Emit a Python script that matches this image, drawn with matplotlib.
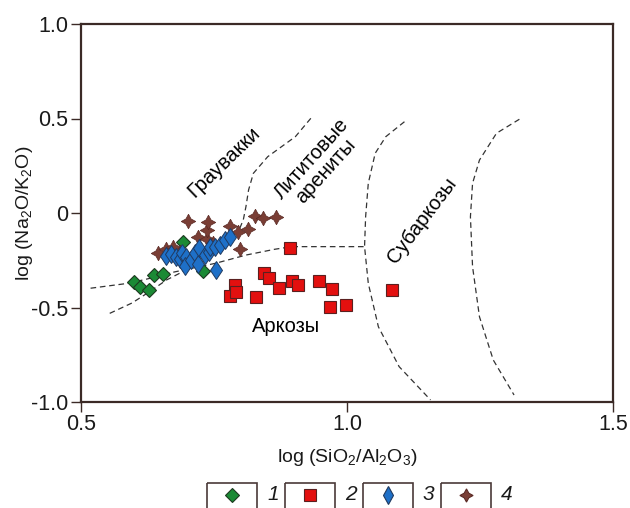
import matplotlib
matplotlib.use("Agg")
import matplotlib.pyplot as plt
from matplotlib.patches import Rectangle

plt.rcParams['font.family'] = ['Liberation Sans', 'DejaVu Sans']
plt.rcParams['mathtext.default'] = 'regular'

# group 1 - green diamonds
x1 = [0.691, 0.638, 0.655, 0.600, 0.611, 0.628, 0.729]
y1 = [-0.155, -0.328, -0.323, -0.365, -0.393, -0.407, -0.305]

# group 2 - red squares
x2 = [0.892, 0.844, 0.854, 0.789, 0.781, 0.791, 0.829, 0.873,
      0.896, 0.908, 0.947, 0.971, 0.968, 0.998, 1.084]
y2 = [-0.187, -0.316, -0.345, -0.381, -0.438, -0.420, -0.443, -0.398,
      -0.360, -0.381, -0.360, -0.404, -0.499, -0.488, -0.407]

# group 3 - blue diamonds
x3 = [0.659, 0.669, 0.678, 0.686, 0.689, 0.698, 0.696, 0.706, 0.714, 0.719,
      0.721, 0.733, 0.740, 0.743, 0.751, 0.753, 0.762, 0.771, 0.780]
y3 = [-0.228, -0.217, -0.231, -0.245, -0.213, -0.231, -0.280, -0.249, -0.213, -0.270,
      -0.187, -0.222, -0.205, -0.178, -0.178, -0.302, -0.169, -0.143, -0.125]

# group 4 - brown stars
x4 = [0.645, 0.660, 0.673, 0.686, 0.702, 0.720, 0.722, 0.736, 0.736,
      0.739, 0.749, 0.780, 0.796, 0.813, 0.798, 0.827, 0.842, 0.867]
y4 = [-0.210, -0.192, -0.178, -0.205, -0.041, -0.129, -0.196, -0.139, -0.090,
      -0.046, -0.160, -0.069, -0.099, -0.086, -0.192, -0.016, -0.028, -0.020]

# field boundaries (dashed)
bA_x = [0.518, 0.589, 0.629, 0.667, 0.753, 0.811, 0.864, 0.896, 0.955, 1.033]
bA_y = [-0.398, -0.372, -0.346, -0.317, -0.266, -0.222, -0.192, -0.178, -0.178, -0.178]
bB_x = [0.554, 0.596, 0.629, 0.661, 0.700]
bB_y = [-0.531, -0.476, -0.416, -0.354, -0.298]
bC_x = [0.932, 0.903, 0.851, 0.824, 0.815, 0.810, 0.805, 0.797]
bC_y = [0.501, 0.404, 0.298, 0.210, 0.122, 0.033, -0.037, -0.090]
bD_x = [1.108, 1.073, 1.053, 1.040, 1.035, 1.033, 1.040, 1.059, 1.098, 1.157]
bD_y = [0.483, 0.404, 0.316, 0.157, -0.020, -0.178, -0.372, -0.602, -0.813, -0.989]
bE_x = [1.324, 1.281, 1.249, 1.236, 1.232, 1.236, 1.249, 1.275, 1.314]
bE_y = [0.496, 0.422, 0.280, 0.157, -0.020, -0.284, -0.549, -0.778, -0.963]

frame_c = '#3b2a26'

fig = plt.figure(figsize=(6.3, 5.08), dpi=100)
ax = fig.add_axes([81/630, 1-402/508, 532/630, 378/508])

for bx, by in [(bA_x, bA_y), (bB_x, bB_y), (bC_x, bC_y), (bD_x, bD_y), (bE_x, bE_y)]:
    ax.plot(bx, by, color='#333333', lw=0.9, ls=(0, (4.5, 3)))

ax.plot(x2, y2, 's', ms=8.5, mfc='#e3100f', mec='#5a2020', mew=0.8, zorder=3)
ax.plot(x1, y1, 'D', ms=7.5, mfc='#1b8a35', mec='#1e3a20', mew=0.8, zorder=3)
ax.plot(x4, y4, marker=(4, 1, 0), ls='none', ms=10.5, mfc='#7a3e35', mec='#5a2a25', mew=0.5, zorder=4)
ax.plot(x3, y3, 'd', ms=9.5, mfc='#1e70c8', mec='#203a60', mew=0.7, zorder=5)

ax.text(0.769, 0.270, 'Граувакки', rotation=44, ha='center', va='center', fontsize=14.5)
ax.text(0.947, 0.254, 'Лититовые\nарениты', rotation=48, ha='center', va='center',
        fontsize=14.5, linespacing=1.0)
ax.text(1.141, -0.042, 'Субаркозы', rotation=53, ha='center', va='center', fontsize=14.5)
ax.text(0.886, -0.601, 'Аркозы', ha='center', va='center', fontsize=14.5)

ax.set_xlim(0.5, 1.5)
ax.set_ylim(-1.0, 1.0)
ax.set_xticks([0.5, 1.0, 1.5])
ax.set_xticklabels(['0.5', '1.0', '1.5'])
ax.set_yticks([-1.0, -0.5, 0, 0.5, 1.0])
ax.set_yticklabels(['-1.0', '-0.5', '0', '0.5', '1.0'])
ax.tick_params(direction='out', length=7, width=1.0, color=frame_c, labelsize=15.5,
               labelcolor='#1a1a1a', pad=2)
for s in ax.spines.values():
    s.set_color(frame_c)
    s.set_linewidth(1.6)

ax.set_xlabel('log (SiO$_2$/Al$_2$O$_3$)', fontsize=14, labelpad=8, color='#1a1a1a')
ax.set_ylabel('log (Na$_2$O/K$_2$O)', fontsize=14, labelpad=-3, color='#1a1a1a')

# legend strip at the bottom (boxed symbols)
lax = fig.add_axes([0, 0, 1, 1], zorder=-1)
lax.set_xlim(0, 630)
lax.set_ylim(508, 0)
lax.axis('off')
leg_styles = [
    dict(marker='D', ms=7, mfc='#1b8a35', mec='#1e3a20'),
    dict(marker='s', ms=8, mfc='#e3100f', mec='#5a2020'),
    dict(marker='d', ms=9, mfc='#1e70c8', mec='#203a60'),
    dict(marker=(4, 1, 0), ms=9.5, mfc='#7a3e35', mec='#5a2a25'),
]
leg_labels = ['1', '2', '3', '4']
for i, (st, lab) in enumerate(zip(leg_styles, leg_labels)):
    x0 = 207 + i * 78
    lax.add_patch(Rectangle((x0, 483), 50, 30, fill=False, ec='#4a3a38', lw=1.2))
    lax.plot([x0 + 25], [495], ls='none', mew=0.8, **st)
    lax.text(x0 + 60, 495, lab, fontsize=15, style='italic', va='center', ha='left',
             color='#1a1a1a')

fig.savefig('out.png', dpi=100)
